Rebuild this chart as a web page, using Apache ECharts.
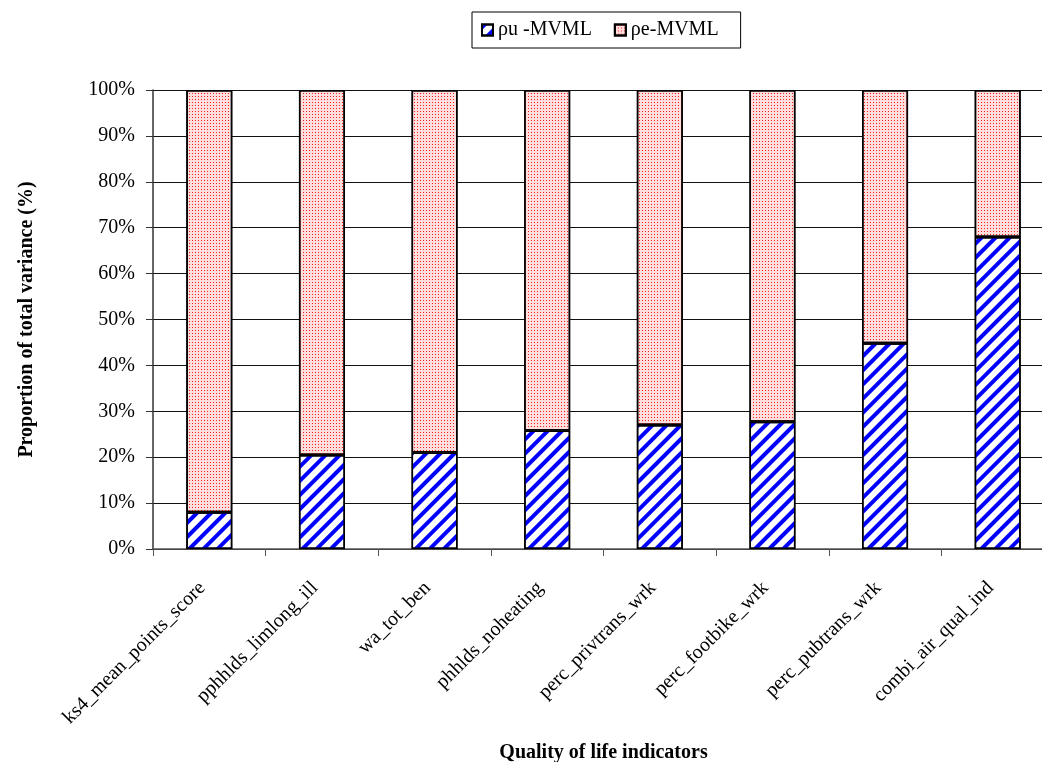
<!DOCTYPE html>
<html>
<head>
<meta charset="utf-8">
<script src="https://cdn.jsdelivr.net/npm/echarts@6/dist/echarts.min.js"></script>
<style>html,body{margin:0;padding:0;background:#fff}#c{width:1042px;height:762px}</style>
</head>
<body>
<div id="c"></div>
<script>
const categories = ['ks4_mean_points_score','pphhlds_limlong_ill','wa_tot_ben','phhlds_noheating','perc_privtrans_wrk','perc_footbike_wrk','perc_pubtrans_wrk','combi_air_qual_ind'];
const seriesNames = ['ρu -MVML', 'ρe-MVML'];
const puValues = [8, 20.5, 21, 25.8, 27, 27.7, 44.8, 68];
const peValues = [92, 79.5, 79, 74.2, 73, 72.3, 55.2, 32];
const yTicks = [0,10,20,30,40,50,60,70,80,90,100];

const FONT = 'Liberation Serif';
const chart = echarts.init(document.getElementById('c'), null, {renderer: 'canvas'});
chart.setOption({
  backgroundColor: '#fff',
  animation: false,
  legend: {
    left: 472, top: 12,
    padding: [8, 22, 8, 9],
    borderColor: '#000', borderWidth: 1,
    itemWidth: 11, itemHeight: 11, itemGap: 22,
    icon: 'rect',
    textStyle: {fontFamily: FONT, fontSize: 20, color: '#000'},
    data: seriesNames
  },
  grid: {left: 153, top: 90, width: 901, height: 459, containLabel: false, outerBoundsMode: 'none'},
  xAxis: {
    type: 'category',
    data: categories,
    name: 'Quality of life indicators',
    nameLocation: 'middle', nameGap: 194,
    nameTextStyle: {fontFamily: FONT, fontSize: 20, fontWeight: 'bold', color: '#000'},
    axisLine: {lineStyle: {color: '#555', width: 1.5}},
    axisTick: {show: true, length: 7, lineStyle: {color: '#555'}},
    axisLabel: {rotate: 45, fontFamily: FONT, fontSize: 20, color: '#000', margin: 43, interval: 0, verticalAlign: 'bottom'}
  },
  yAxis: {
    type: 'value', min: 0, max: 100, interval: 10,
    name: 'Proportion of total variance (%)',
    nameLocation: 'middle', nameGap: 116,
    nameTextStyle: {fontFamily: FONT, fontSize: 20, fontWeight: 'bold', color: '#000'},
    axisLine: {show: true, lineStyle: {color: '#333', width: 1.5}},
    axisTick: {show: true, length: 7, lineStyle: {color: '#333'}},
    axisLabel: {fontFamily: FONT, fontSize: 20, color: '#000', margin: 18,
      formatter: v => yTicks.indexOf(v) >= 0 ? v + '%' : ''},
    splitLine: {show: true, lineStyle: {color: '#111', width: 1}}
  },
  series: [
    {
      name: seriesNames[0], type: 'bar', stack: 'total', barWidth: 46,
      data: puValues,
      itemStyle: {
        color: '#ffffff', borderColor: '#000', borderWidth: 1.5,
        decal: {symbol: 'rect', symbolSize: 1, color: '#0000ff', dashArrayX: [1, 0], dashArrayY: [3.5, 5.5], rotation: -Math.PI / 4}
      }
    },
    {
      name: seriesNames[1], type: 'bar', stack: 'total', barWidth: 46,
      data: peValues,
      itemStyle: {
        color: '#ffdede', borderColor: '#000', borderWidth: 1.5,
        decal: {symbol: 'rect', symbolSize: 1, color: '#ff1a1a', dashArrayX: [1, 2], dashArrayY: [1, 2], rotation: 0}
      }
    }
  ]
});
</script>
</body>
</html>
